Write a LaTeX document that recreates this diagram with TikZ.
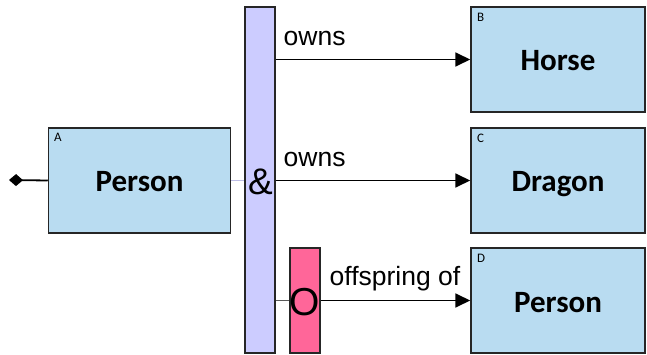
\documentclass[tikz,border=0pt]{standalone}
\usepackage{fontspec}
\setmainfont{Liberation Sans}
\newfontfamily\boxfont{Carlito}
\usetikzlibrary{arrows.meta}
\definecolor{boxblue}{HTML}{B9DCF1}
\definecolor{barlav}{HTML}{CCCCFF}
\definecolor{orpink}{HTML}{FF6699}
\begin{document}
\begin{tikzpicture}[x=1pt,y=-1pt,
  entity/.style={draw=black!85,line width=1.5pt,fill=boxblue,minimum width=174pt,minimum height=105pt,inner sep=0pt,text height=23pt,text depth=0pt,font=\boxfont\bfseries\fontsize{31}{35}\selectfont},
  tag/.style={font=\boxfont\fontsize{13}{14}\selectfont,anchor=north west,inner sep=0pt},
  bar/.style={draw=black!85,line width=1.5pt,inner sep=0pt},
  rel/.style={line width=1.8pt,-{Triangle[length=15pt,width=14pt]}},
  lbl/.style={font=\fontsize{26.5}{30}\selectfont,anchor=base west,inner sep=0pt}]
\useasboundingbox (0,0) rectangle (647,355);
% entities
\node[entity,minimum width=182pt] (A) at (139.5,180.5) {Person};
\node[tag] at (54,132.5) {A};
\node[entity] (B) at (558,59.5) {Horse};
\node[tag] at (477,12.5) {B};
\node[entity] (C) at (558,180.5) {Dragon};
\node[tag] at (477,133.5) {C};
\node[entity] (D) at (558,300.5) {Person};
\node[tag] at (477,253.5) {D};
% and bar
\node[bar,fill=barlav,minimum width=30pt,minimum height=346pt] (and) at (260,180) {};
\node[font=\fontsize{37}{40}\selectfont,inner sep=0pt] (amp) at (260.5,182) {\&};
% or box
\node[bar,fill=orpink,minimum width=30pt,minimum height=105pt] (or) at (305,300.5) {};
\node[font=\fontsize{39}{42}\selectfont,inner sep=0pt] (orO) at (305,302.5) {O};
% root
\coordinate (root) at (9,180);
\draw[line width=1.8pt,{Diamond[length=14pt,width=12pt]}-] (root) -- (A.west);
\draw[line width=1.8pt,barlav!80!gray] (A.east) -- (and.west |- A.east);
\draw[line width=1.8pt,black!65] (and.east |- or) -- (or.west);
% relations
\draw[rel] (and.east |- B.west) -- (B.west) node[pos=0,lbl,xshift=7pt,yshift=14pt] {owns};
\draw[rel] (and.east |- C.west) -- (C.west) node[pos=0,lbl,xshift=7pt,yshift=14pt] {owns};
\draw[rel] (or.east |- D.west) -- (D.west) node[pos=0,lbl,xshift=8pt,yshift=15pt] {offspring of};
\end{tikzpicture}
\end{document}
